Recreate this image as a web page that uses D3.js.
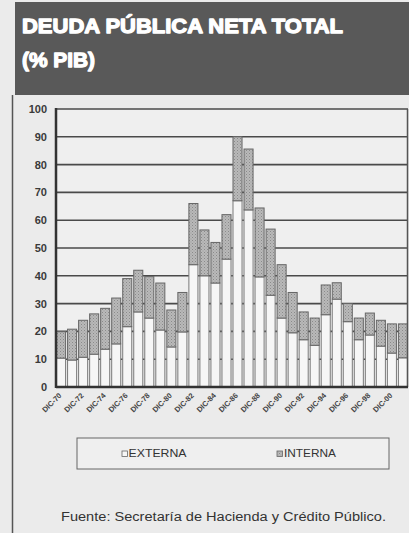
<!DOCTYPE html>
<html><head><meta charset="utf-8">
<script src="https://cdn.jsdelivr.net/npm/d3@7"></script>
<style>html,body{margin:0;padding:0;background:#ebebeb;}svg{display:block;}</style>
</head><body>
<svg id="c" width="409" height="533"></svg>
<script>
const years = ["1970","1971","1972","1973","1974","1975","1976","1977","1978","1979","1980","1981","1982","1983","1984","1985","1986","1987","1988","1989","1990","1991","1992","1993","1994","1995","1996","1997","1998","1999","2000","2001"];
const externa = [10.4,9.7,10.7,11.8,13.6,15.5,21.7,27,24.8,20.5,14.4,19.8,44,40,37.4,46,67,63.7,39.6,33,24.8,19.5,17,15,26,31.6,23.5,17,18.7,14.7,12.2,10.5];
const interna = [9.5,11.1,13.3,14.5,14.7,16.5,17.3,15,14.9,16.9,13.3,14.2,22,16.5,14.6,16,23,21.9,24.8,23.8,19.2,14.5,10,9.8,10.7,5.9,6.5,7.8,7.9,9.3,10.5,12.2];
const yTicks = [0,10,20,30,40,50,60,70,80,90,100];
const xLabels = ["DIC-70","DIC-72","DIC-74","DIC-76","DIC-78","DIC-80","DIC-82","DIC-84","DIC-86","DIC-88","DIC-90","DIC-92","DIC-94","DIC-96","DIC-98","DIC-00"];
const seriesNames = ["EXTERNA","INTERNA"];

const svg = d3.select("#c");
const defs = svg.append("defs");
const pat = defs.append("pattern").attr("id","dots").attr("patternUnits","userSpaceOnUse").attr("width",3).attr("height",3);
pat.append("rect").attr("width",3).attr("height",3).attr("fill","#b9b9b9");
pat.append("rect").attr("x",0).attr("y",0).attr("width",1).attr("height",1).attr("fill","#8a8a8a");
pat.append("rect").attr("x",1.5).attr("y",1.5).attr("width",1).attr("height",1).attr("fill","#999");

// background
svg.append("rect").attr("width",409).attr("height",533).attr("fill","#ebebeb");
// title box
svg.append("rect").attr("x",15).attr("y",2).attr("width",394).attr("height",93).attr("fill","#595959");
const tt = svg.append("g").attr("font-family","'Liberation Sans', Arial, sans-serif").attr("font-weight","900").attr("fill","#fff");
tt.append("text").attr("x",22).attr("y",33).attr("font-size",21).attr("textLength",321).attr("lengthAdjust","spacingAndGlyphs")
  .attr("stroke","#fff").attr("stroke-width",1.3).attr("stroke-linejoin","round").text("DEUDA PÚBLICA NETA TOTAL");
tt.append("text").attr("x",22).attr("y",67).attr("font-size",21).attr("textLength",73).attr("lengthAdjust","spacingAndGlyphs")
  .attr("stroke","#fff").attr("stroke-width",1.3).attr("stroke-linejoin","round").text("(% PIB)");
// left frame line
svg.append("line").attr("x1",12.5).attr("x2",12.5).attr("y1",95).attr("y2",533).attr("stroke","#555").attr("stroke-width",1.5);

const x0 = 56, x1 = 408, yb = 387, yt = 109;
const x = d3.scaleBand().domain(years).range([x0,x1]).paddingInner(0.18).paddingOuter(0.05);
const y = d3.scaleLinear().domain([0,100]).range([yb,yt]);

// plot background
svg.append("rect").attr("x",x0).attr("y",yt).attr("width",x1-x0).attr("height",yb-yt).attr("fill","#efefef");

// gridlines
svg.append("g").selectAll("line").data(yTicks.filter(d=>d>0)).join("line")
  .attr("x1",x0).attr("x2",x1).attr("y1",d=>y(d)).attr("y2",d=>y(d))
  .attr("stroke","#4a4a4a").attr("stroke-width",1.6);

// stacked bars
const data = years.map((yr,i)=>({yr, e:externa[i], n:interna[i]}));
const g = svg.append("g");
g.selectAll("rect.e").data(data).join("rect").attr("class","e")
  .attr("x",d=>x(d.yr)).attr("width",x.bandwidth())
  .attr("y",d=>y(d.e)).attr("height",d=>y(0)-y(d.e))
  .attr("fill","#f6f6f6").attr("stroke","#7a7a7a").attr("stroke-width",1);
g.selectAll("rect.n").data(data).join("rect").attr("class","n")
  .attr("x",d=>x(d.yr)).attr("width",x.bandwidth())
  .attr("y",d=>y(d.e+d.n)).attr("height",d=>y(d.e)-y(d.e+d.n))
  .attr("fill","url(#dots)").attr("stroke","#666").attr("stroke-width",1);

// frame
svg.append("line").attr("x1",x1-0.5).attr("x2",x1-0.5).attr("y1",yt).attr("y2",yb).attr("stroke","#555").attr("stroke-width",1.5);
svg.append("line").attr("x1",x0).attr("x2",x1).attr("y1",yb).attr("y2",yb).attr("stroke","#333").attr("stroke-width",2.5);
svg.append("line").attr("x1",x0).attr("x2",x0).attr("y1",yt-1).attr("y2",yb+1).attr("stroke","#333").attr("stroke-width",2.5);

// y axis labels
const yAxis = d3.axisLeft(y).tickValues(yTicks).tickSize(0).tickPadding(9);
const ya = svg.append("g").attr("transform",`translate(${x0},0)`).call(yAxis);
ya.select(".domain").remove();
ya.selectAll("text").attr("font-family","'Liberation Sans Narrow','Liberation Sans',Arial,sans-serif")
  .attr("font-size",11).attr("font-weight","bold").attr("fill","#3a3a3a");

// x labels (every second year)
const labYears = years.filter((d,i)=>i%2===0);
svg.append("g").selectAll("text").data(labYears).join("text")
  .attr("transform",(d,i)=>`translate(${x(d)+x.bandwidth()/2+1},${yb+9}) rotate(-45)`)
  .attr("text-anchor","end")
  .attr("font-family","'Liberation Sans', Arial, sans-serif").attr("font-size",7.5).attr("font-weight","bold")
  .attr("fill","#444").text((d,i)=>xLabels[i]);

// legend
svg.append("rect").attr("x",77).attr("y",438).attr("width",312).attr("height",31)
  .attr("fill","#efefef").attr("stroke","#666").attr("stroke-width",1);
const lg = svg.append("g").attr("font-family","'Liberation Sans', Arial, sans-serif").attr("font-size",10.5).attr("fill","#333");
lg.append("rect").attr("x",122).attr("y",451).attr("width",5.5).attr("height",5.5).attr("fill","#f6f6f6").attr("stroke","#666").attr("stroke-width",0.8);
lg.append("text").attr("x",128.5).attr("y",457).attr("textLength",58).attr("lengthAdjust","spacingAndGlyphs").text(seriesNames[0]);
lg.append("rect").attr("x",277).attr("y",451).attr("width",5.5).attr("height",5.5).attr("fill","url(#dots)").attr("stroke","#666").attr("stroke-width",0.8);
lg.append("text").attr("x",284).attr("y",457).attr("textLength",52).attr("lengthAdjust","spacingAndGlyphs").text(seriesNames[1]);

// source
svg.append("text").attr("x",61).attr("y",521)
  .attr("font-family","'Liberation Sans', Arial, sans-serif").attr("font-size",12).attr("fill","#333")
  .attr("textLength",325).attr("lengthAdjust","spacingAndGlyphs")
  .text("Fuente: Secretaría de Hacienda y Crédito Público.");
</script>
</body></html>
